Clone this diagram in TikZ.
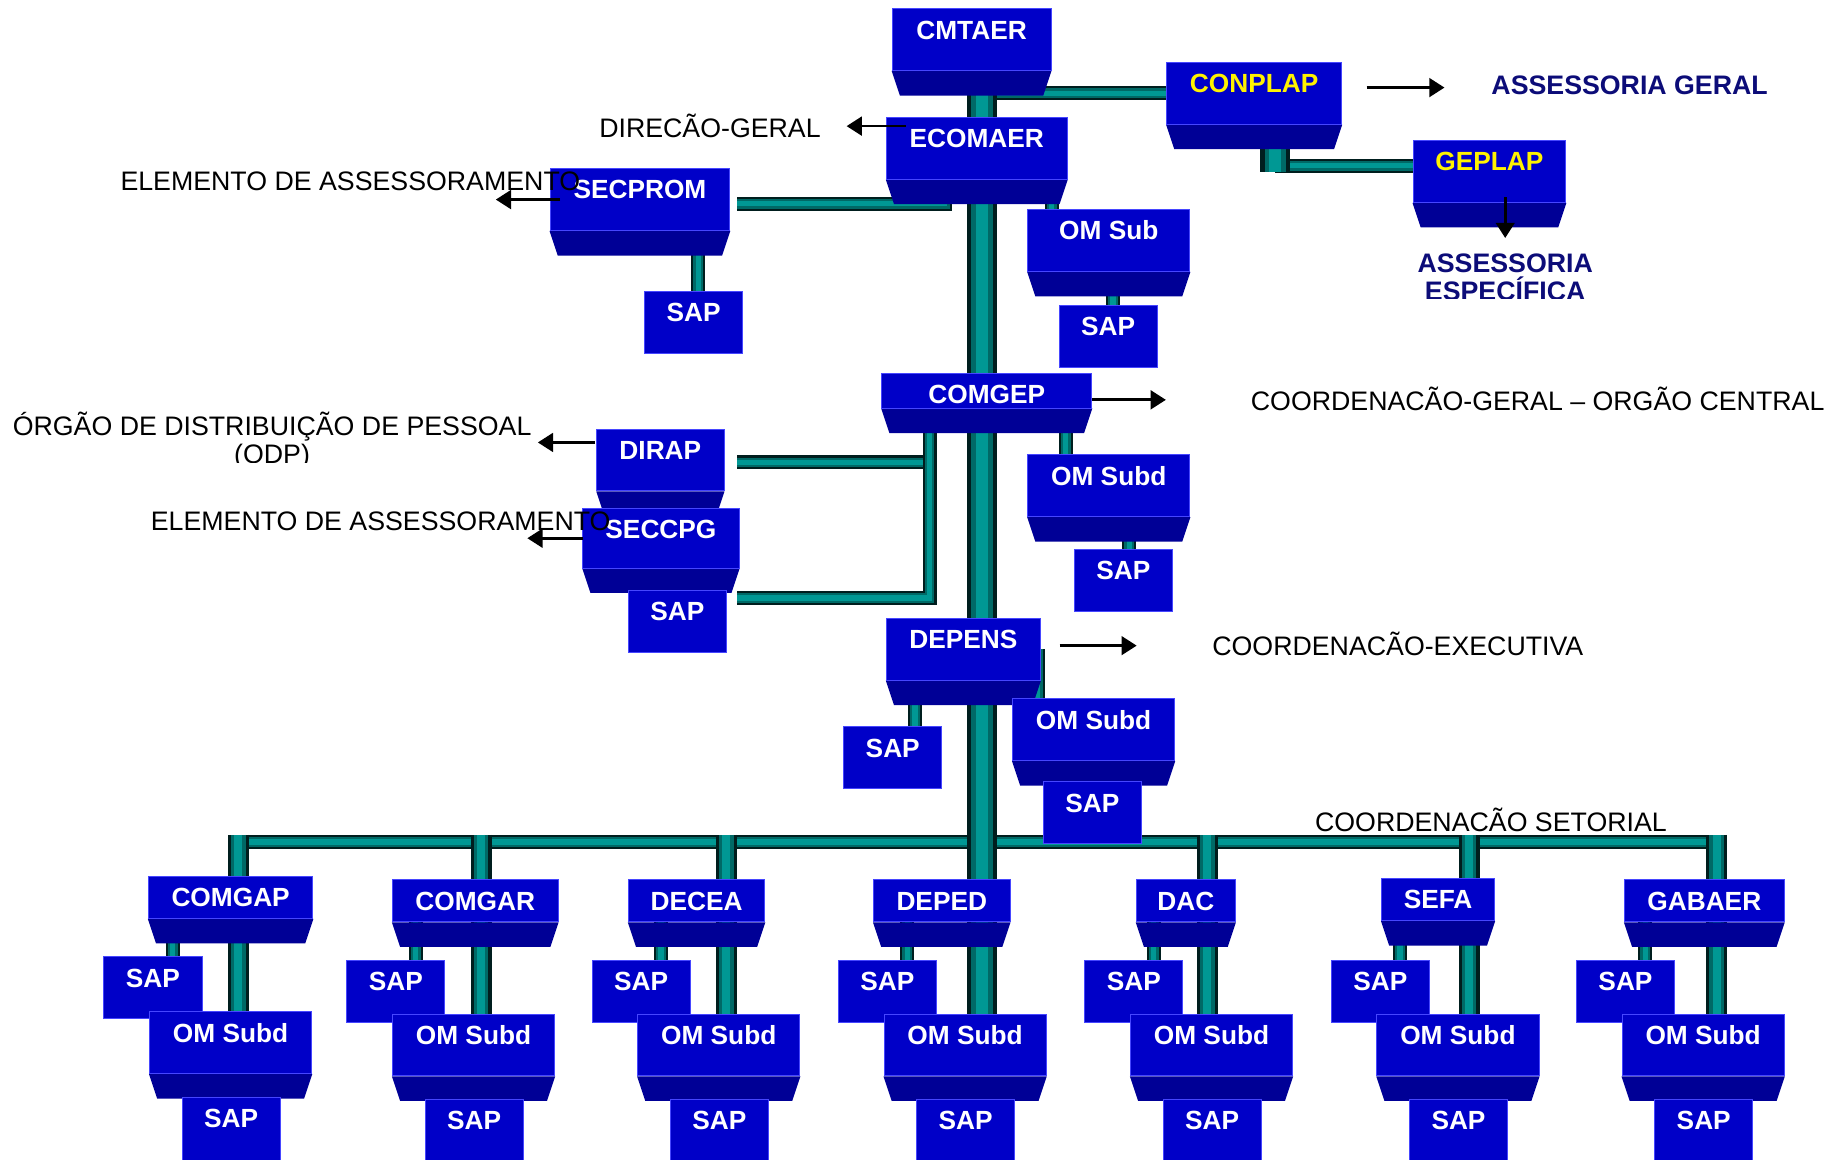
\documentclass[tikz,border=0pt]{standalone}
\usepackage{fontspec}
\setmainfont{Liberation Sans}
\usetikzlibrary{arrows.meta,backgrounds}

\definecolor{faceblue}{RGB}{0,0,200}
\definecolor{lowblue}{RGB}{0,0,150}
\definecolor{rimblue}{RGB}{70,70,255}
\definecolor{pipeedge}{RGB}{0,30,30}
\definecolor{pipemid}{RGB}{0,105,102}
\definecolor{pipecore}{RGB}{0,152,148}
\definecolor{notenavy}{RGB}{12,12,120}

\newcommand\boxfont{\fontsize{22.5}{27}\selectfont\bfseries}
\newcommand\notefont{\fontsize{22.9}{24}\selectfont}

\tikzset{
  boxface/.style={draw=rimblue, line width=0.8pt, fill=faceblue, text=white,
    font=\boxfont, inner xsep=0pt, inner ysep=0pt, anchor=north, text height=26pt},
  orgunit/.style={boxface, text depth=#1,
    append after command={\pgfextra{\fill[lowblue] (\tikzlastnode.south west) -- (\tikzlastnode.south east)
      -- ([xshift=-7pt,yshift=-21pt]\tikzlastnode.south east) -- ([xshift=7pt,yshift=-21pt]\tikzlastnode.south west) -- cycle;}}},
  orgunit/.default=27pt,
  sapbox/.style={boxface, minimum width=84pt, text depth=#1},
  sapbox/.default=27pt,
  pipe/.style={line width=#1pt, draw=pipeedge,
    postaction={draw=pipemid, line width=0.7*#1pt},
    postaction={draw=pipecore, line width=0.38*#1pt}},
  note/.style={font=\notefont, inner sep=0pt, anchor=west},
  navynote/.style={note, font=\notefont\bfseries, text=notenavy},
  pointer/.style={line width=2.3pt, -{Triangle[length=13pt,width=16pt]}}
}

\begin{document}
\begin{tikzpicture}[x=1pt,y=-1pt]
\useasboundingbox (0,0) rectangle (1568,993);
\clip (0,0) rectangle (1568,993);

\coordinate (spine) at (841,30);
\coordinate (cpknee) at (1092,142);
\coordinate (spknee) at (809,174.5);
\coordinate (gpknee) at (796,396);
\coordinate (gpfoot) at (796,512);
\coordinate (tapgap) at (204,715);
\coordinate (tapgar) at (412,715);
\coordinate (tapdec) at (622,715);
\coordinate (tapdac) at (1034,715);
\coordinate (tapsef) at (1258,715);
\coordinate (tapgab) at (1470,715);

\node[orgunit, minimum width=136pt] (cmtaer) at (832,7) {CMTAER};
\node[orgunit, minimum width=150pt, text=yellow] (conplap) at (1074,53) {CONPLAP};
\node[orgunit, minimum width=155pt] (ecomaer) at (836.5,100) {ECOMAER};
\node[orgunit, minimum width=131pt, text=yellow] (geplap) at (1275.5,120) {GEPLAP};
\node[orgunit, minimum width=154pt] (secprom) at (548,144) {SECPROM};
\node[sapbox] (sapsec) at (594,249) {SAP};
\node[orgunit, minimum width=139pt] (omsub) at (949.5,179) {OM Sub};
\node[sapbox] (sapsub) at (949,261) {SAP};
\node[orgunit=4pt, minimum width=180pt] (comgep) at (845,319) {COMGEP};
\node[orgunit, minimum width=139pt] (omsubgep) at (949.5,389) {OM Subd};
\node[sapbox] (sapgep) at (962,470) {SAP};
\node[orgunit, minimum width=109pt] (dirap) at (565.5,367) {DIRAP};
\node[orgunit=25pt, minimum width=134pt] (seccpg) at (566,435) {SECCPG};
\node[sapbox] (sapcpg) at (580,505) {SAP};
\node[orgunit, minimum width=132pt] (depens) at (825,529) {DEPENS};
\node[sapbox] (sapens) at (764.5,622) {SAP};
\node[orgunit, minimum width=139pt] (omsubens) at (936.5,598) {OM Subd};
\node[sapbox] (sapensb) at (935.5,669) {SAP};

\node[orgunit=10pt, minimum width=141pt] (comgap) at (197.5,750) {COMGAP};
\node[sapbox] (sapgapl) at (131,819) {SAP};
\node[orgunit, minimum width=139pt] (omsubgap) at (197.5,866) {OM Subd};
\node[sapbox=34pt] (sapgapb) at (198,939) {SAP};

\node[orgunit=10pt, minimum width=142pt] (comgar) at (407,753) {COMGAR};
\node[sapbox] (sapgarl) at (339,822) {SAP};
\node[orgunit, minimum width=139pt] (omsubgar) at (405.5,868) {OM Subd};
\node[sapbox=34pt] (sapgarb) at (406,941) {SAP};

\node[orgunit=10pt, minimum width=117pt] (decea) at (596.5,753) {DECEA};
\node[sapbox] (sapdecl) at (549,822) {SAP};
\node[orgunit, minimum width=139pt] (omsubdec) at (615.5,868) {OM Subd};
\node[sapbox=34pt] (sapdecb) at (616,941) {SAP};

\node[orgunit=10pt, minimum width=117pt] (deped) at (806.5,753) {DEPED};
\node[sapbox] (sappedl) at (760,822) {SAP};
\node[orgunit, minimum width=139pt] (omsubped) at (826.5,868) {OM Subd};
\node[sapbox=34pt] (sappedb) at (827,941) {SAP};

\node[orgunit=10pt, minimum width=85pt] (dac) at (1015.5,753) {DAC};
\node[sapbox] (sapdacl) at (971,822) {SAP};
\node[orgunit, minimum width=139pt] (omsubdac) at (1037.5,868) {OM Subd};
\node[sapbox=34pt] (sapdacb) at (1038,941) {SAP};

\node[orgunit=10pt, minimum width=97pt] (sefa) at (1231.5,752) {SEFA};
\node[sapbox] (sapsefl) at (1182,822) {SAP};
\node[orgunit, minimum width=139pt] (omsubsef) at (1248.5,868) {OM Subd};
\node[sapbox=34pt] (sapsefb) at (1249,941) {SAP};

\node[orgunit=10pt, minimum width=137pt] (gabaer) at (1459.5,753) {GABAER};
\node[sapbox] (sapgabl) at (1392,822) {SAP};
\node[orgunit, minimum width=139pt] (omsubgab) at (1458.5,868) {OM Subd};
\node[sapbox=34pt] (sapgabb) at (1459,941) {SAP};

\begin{scope}[on background layer]
\draw[pipe=12] (cmtaer |- conplap) -- (conplap);
\draw[pipe=12] (cpknee) -- (geplap.west |- cpknee);
\draw[pipe=26] (conplap.center -| cpknee) -- ([yshift=-5pt]cpknee);
\draw[pipe=12] ([xshift=6pt]secprom.east |- spknee) -- (spknee) -- (spknee |- ecomaer);
\draw[pipe=12] ([xshift=4pt]sapsec.north) -- ([xshift=4pt]sapsec.north |- secprom);
\draw[pipe=12] ([xshift=21pt]omsub.north west) -- ([xshift=21pt]omsub.north west |- ecomaer);
\draw[pipe=12] ([xshift=4pt]sapsub.north) -- ([xshift=4pt]sapsub.north |- omsub);
\draw[pipe=12] ([xshift=33pt]omsubgep.north west) -- ([xshift=33pt]omsubgep.north west |- comgep);
\draw[pipe=12] ([xshift=5pt]sapgep.north) -- ([xshift=5pt]sapgep.north |- omsubgep);
\draw[pipe=12] ([xshift=11pt]dirap.east |- gpknee) -- (gpknee);
\draw[pipe=12] ([xshift=9pt]sapcpg.east |- gpfoot) -- (gpfoot) -- (gpfoot |- comgep);
\draw[pipe=12] ([xshift=19pt]sapens.north) -- ([xshift=19pt]sapens.north |- depens);
\draw[pipe=12] ([xshift=22pt]omsubens.north west) -- ([xshift=22pt]omsubens.north west |- depens);
\draw[pipe=12] ([yshift=-6pt]tapgap) -- ([yshift=-6pt]tapgab);
\draw[pipe=26] (spine) -- (spine |- omsubped);
\draw[pipe=18] (tapgap) -- (tapgap |- omsubgap);
\draw[pipe=18] (tapgar) -- (tapgar |- omsubgar);
\draw[pipe=18] (tapdec) -- (tapdec |- omsubdec);
\draw[pipe=18] (tapdac) -- (tapdac |- omsubdac);
\draw[pipe=18] (tapsef) -- (tapsef |- omsubsef);
\draw[pipe=18] (tapgab) -- (tapgab |- omsubgab);
\draw[pipe=12] ([xshift=17pt]sapgapl.north) -- ([xshift=17pt]sapgapl.north |- comgap);
\draw[pipe=12] ([xshift=17pt]sapgarl.north) -- ([xshift=17pt]sapgarl.north |- comgar);
\draw[pipe=12] ([xshift=17pt]sapdecl.north) -- ([xshift=17pt]sapdecl.north |- decea);
\draw[pipe=12] ([xshift=17pt]sappedl.north) -- ([xshift=17pt]sappedl.north |- deped);
\draw[pipe=12] ([xshift=17pt]sapdacl.north) -- ([xshift=17pt]sapdacl.north |- dac);
\draw[pipe=12] ([xshift=17pt]sapsefl.north) -- ([xshift=17pt]sapsefl.north |- sefa);
\draw[pipe=12] ([xshift=17pt]sapgabl.north) -- ([xshift=17pt]sapgabl.north |- gabaer);
\end{scope}

\node[note] (dglabel) at (513,108) {DIRECÃO-GERAL};
\node[note] (ea1label) at (103,155) {ELEMENTO DE ASSESSORAMENTO};
\node[note] (ea2label) at (129,446) {ELEMENTO DE ASSESSORAMENTO};
\node[note] (cglabel) at (1071,342) {COORDENACÃO-GERAL – ORGÃO CENTRAL};
\node[note] (celabel) at (1038,551) {COORDENACÃO-EXECUTIVA};
\node[note] (cslabel) at (1126,702) {COORDENACÃO SETORIAL};
\node[navynote] (aglabel) at (1277,73) {ASSESSORIA GERAL};
\begin{scope}
\clip (0,340) rectangle (500,396);
\node[note, anchor=center, align=center] (odplabel) at (233,377) {ÓRGÃO DE DISTRIBUIÇÃO DE PESSOAL\\(ODP)};
\end{scope}
\begin{scope}
\clip (1150,200) rectangle (1420,256);
\node[navynote, anchor=center, align=center] (aelabel) at (1289,237.5) {ASSESSORIA\\ESPECÍFICA};
\end{scope}

\draw[pointer] ([xshift=21pt,yshift=-2pt]conplap.east |- aglabel) -- ([xshift=-40pt,yshift=-2pt]aglabel.west);
\draw[pointer] ([xshift=17pt]ecomaer.west |- dglabel) -- ([xshift=22pt]dglabel.east);
\draw[pointer] ([xshift=9pt]secprom.west) -- ([xshift=-46pt]secprom.west);
\draw[pointer] ([xshift=13.5pt,yshift=5pt]geplap.south) -- ([xshift=13.5pt,yshift=-30pt]geplap.south);
\draw[pointer] ([xshift=-1pt,yshift=15pt]dirap.west) -- ([xshift=-50pt,yshift=15pt]dirap.west);
\draw[pointer] ([xshift=1pt]seccpg.west) -- ([xshift=-47pt]seccpg.west);
\draw[pointer] ([yshift=-8pt]comgep.east) -- ([yshift=-8pt,xshift=63pt]comgep.east);
\draw[pointer] ([xshift=16pt,yshift=3pt]depens.east) -- ([xshift=82pt,yshift=3pt]depens.east);
\end{tikzpicture}
\end{document}
